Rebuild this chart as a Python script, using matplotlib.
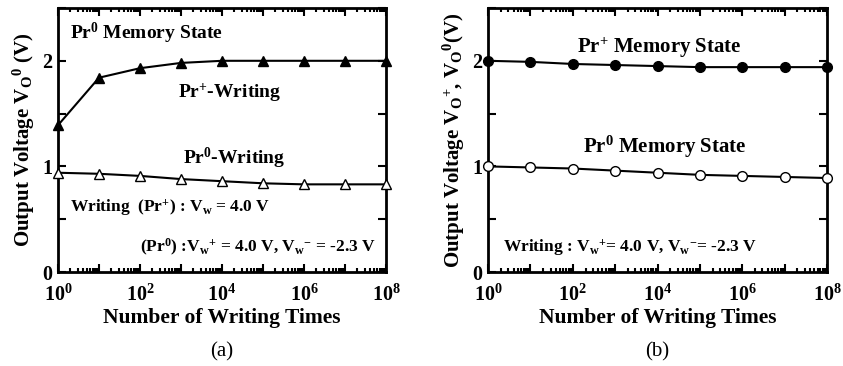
import numpy as np
import matplotlib
matplotlib.use('Agg')
import matplotlib.pyplot as plt
from matplotlib.ticker import LogLocator, NullFormatter, MultipleLocator

plt.rcParams['font.family'] = 'Liberation Serif'
plt.rcParams['font.weight'] = 'bold'
plt.rcParams['axes.labelweight'] = 'bold'
plt.rcParams['mathtext.fontset'] = 'custom'
plt.rcParams['mathtext.rm'] = 'Liberation Serif:bold'
plt.rcParams['mathtext.it'] = 'Liberation Serif:bold'
plt.rcParams['mathtext.bf'] = 'Liberation Serif:bold'

# data
times = [1e0, 1e1, 1e2, 1e3, 1e4, 1e5, 1e6, 1e7, 1e8]
pr_plus_writing = [1.39, 1.84, 1.93, 1.98, 2.0, 2.0, 2.0, 2.0, 2.0]
pr0_writing = [0.94, 0.93, 0.91, 0.88, 0.86, 0.84, 0.83, 0.83, 0.83]
pr_plus_state = [2.0, 1.99, 1.97, 1.96, 1.95, 1.94, 1.94, 1.94, 1.94]
pr0_state = [1.0, 0.99, 0.98, 0.96, 0.94, 0.92, 0.91, 0.90, 0.89]

xtick_vals = [10.0**k for k in range(9)]
xtick_labels = ['$10^{%d}$' % k if k % 2 == 0 else '' for k in range(9)]

fig = plt.figure(figsize=(8.43, 3.66), dpi=100)
ax1 = fig.add_axes([58/843, 1-272/366, (386-58)/843, (272-8)/366])
ax2 = fig.add_axes([488/843, 1-272/366, (827-488)/843, (272-8)/366])


def style_axis(ax):
    ax.set_xscale('log')
    ax.set_xlim(1, 1e8)
    ax.set_ylim(0, 2.5)
    ax.set_xticks(xtick_vals)
    ax.set_xticklabels(xtick_labels)
    ax.xaxis.set_minor_locator(LogLocator(base=10, subs=np.arange(2, 10), numticks=20))
    ax.xaxis.set_minor_formatter(NullFormatter())
    ax.yaxis.set_major_locator(MultipleLocator(0.5))
    ax.set_yticklabels(['%d' % round(v) if abs(v - round(v)) < 1e-9 else ''
                        for v in ax.get_yticks()])
    ax.tick_params(which='both', direction='in', top=True, right=True, width=1.5)
    ax.tick_params(axis='x', which='major', labelsize=14.5, pad=9)
    ax.tick_params(axis='y', which='major', labelsize=14.5, pad=4)
    ax.tick_params(which='major', length=6)
    ax.tick_params(which='minor', length=3)
    for s in ax.spines.values():
        s.set_linewidth(2)
    ax.set_xlabel('Number of Writing Times', fontsize=15.5, labelpad=2)


# (a)
ax1.plot(times, pr_plus_writing, 'k-', marker='^', ms=7.5, mfc='black', mec='black', lw=1.5, clip_on=False, zorder=3)
ax1.plot(times, pr0_writing, 'k-', marker='^', ms=7.5, mfc='white', mec='black', lw=1.5, clip_on=False, zorder=3)
style_axis(ax1)
ax1.set_ylabel('Output Voltage V$_{\\rm O}$$^{0}$ (V)', fontsize=15, labelpad=4)
ax1.text(10**0.29, 2.26, 'Pr$^{0}$ Memory State', fontsize=14, va='center')
ax1.text(10**2.93, 1.70, 'Pr$^{+}$-Writing', fontsize=14, va='center')
ax1.text(10**3.05, 1.08, 'Pr$^{0}$-Writing', fontsize=14, va='center')
ax1.text(10**0.29, 0.61, 'Writing  (Pr$^{+}$) : V$_{\\rm w}$ = 4.0 V', fontsize=12.5, va='center')
ax1.text(10**2.0, 0.23, '(Pr$^{0}$) :V$_{\\rm w}$$^{+}$ = 4.0 V, V$_{\\rm w}$$^{-}$ = -2.3 V', fontsize=12.5, va='center')
fig.text((58 + 386) / 2 / 843, 1 - 352/366, '(a)', ha='center', va='center', fontsize=15, fontweight='normal')

# (b)
ax2.plot(times, pr_plus_state, 'k-', marker='o', ms=7, mfc='black', mec='black', lw=1.5, clip_on=False, zorder=3)
ax2.plot(times, pr0_state, 'k-', marker='o', ms=7, mfc='white', mec='black', lw=1.5, clip_on=False, zorder=3)
style_axis(ax2)
ax2.set_ylabel('Output Voltage V$_{\\rm O}$$^{+}$, V$_{\\rm O}$$^{0}$(V)', fontsize=15, labelpad=4)
ax2.text(10**2.1, 2.12, 'Pr$^{+}$ Memory State', fontsize=15, va='center')
ax2.text(10**2.24, 1.18, 'Pr$^{0}$ Memory State', fontsize=15, va='center')
ax2.text(10**0.35, 0.23, 'Writing : V$_{\\rm w}$$^{+}$= 4.0 V, V$_{\\rm w}$$^{-}$= -2.3 V', fontsize=12.5, va='center')
fig.text((488 + 827) / 2 / 843, 1 - 352/366, '(b)', ha='center', va='center', fontsize=15, fontweight='normal')

fig.savefig('out.png', dpi=100)
